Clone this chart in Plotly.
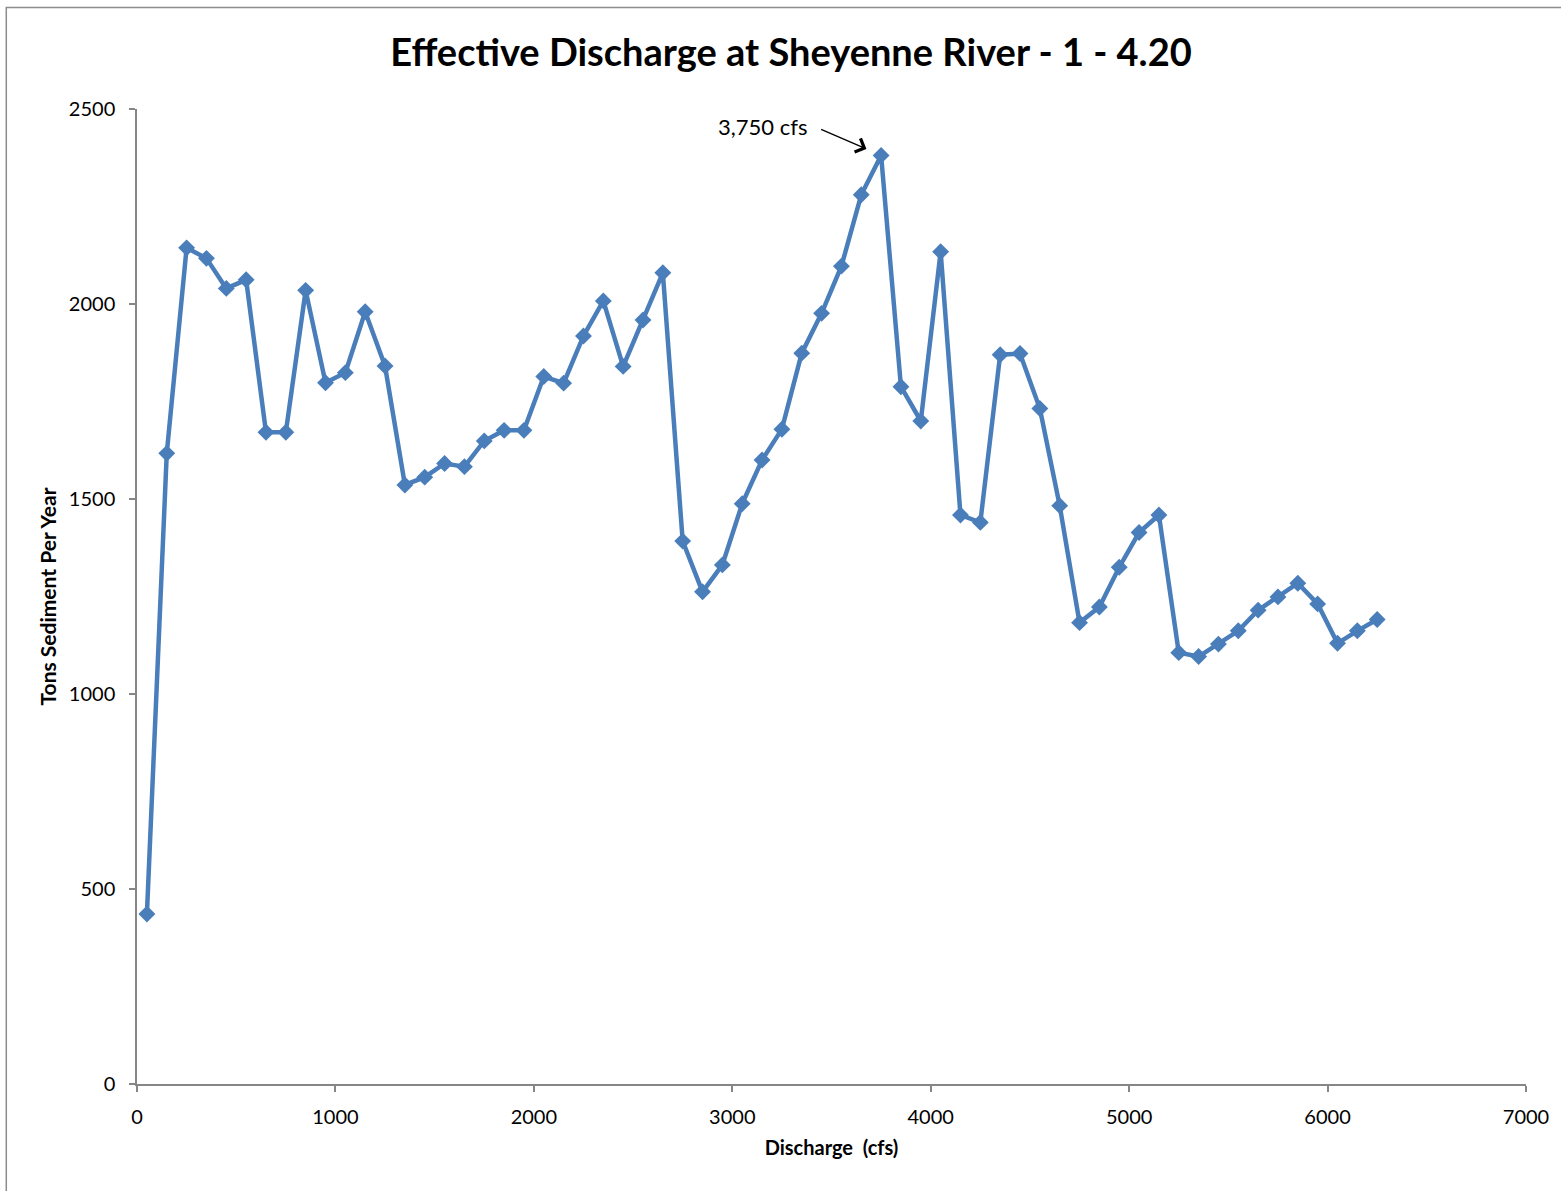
import plotly.graph_objects as go

# Discharge bins (cfs) and annual sediment load per bin
discharge = [
    50, 150, 250, 350, 450, 550, 650, 750, 850, 950,
    1050, 1150, 1250, 1350, 1450, 1550, 1650, 1750, 1850, 1950,
    2050, 2150, 2250, 2350, 2450, 2550, 2650, 2750, 2850, 2950,
    3050, 3150, 3250, 3350, 3450, 3550, 3650, 3750, 3850, 3950,
    4050, 4150, 4250, 4350, 4450, 4550, 4650, 4750, 4850, 4950,
    5050, 5150, 5250, 5350, 5450, 5550, 5650, 5750, 5850, 5950,
    6050, 6150, 6250,
]
tons_per_year = [
    436, 1617, 2144, 2117, 2040, 2062, 1671, 1671, 2035, 1798,
    1824, 1980, 1841, 1536, 1556, 1591, 1583, 1649, 1676, 1676,
    1814, 1797, 1918, 2008, 1840, 1959, 2080, 1392, 1262, 1331,
    1488, 1600, 1679, 1874, 1976, 2097, 2280, 2381, 1788, 1700,
    2134, 1459, 1440, 1870, 1873, 1732, 1483, 1183, 1223, 1325,
    1414, 1459, 1106, 1096, 1128, 1162, 1215, 1249, 1284, 1231,
    1130, 1162, 1191,
]

x_ticks = [0, 1000, 2000, 3000, 4000, 5000, 6000, 7000]
y_ticks = [0, 500, 1000, 1500, 2000, 2500]

title_text = "Effective Discharge at Sheyenne River - 1 - 4.20"
x_title = "Discharge  (cfs)"
y_title = "Tons Sediment Per Year"
peak_discharge = 3750
peak_label = "3,750 cfs"

FONT = "Lato, 'Open Sans', sans-serif"
LINE_BLUE = "#4A7EBB"
AXIS_GRAY = "#868686"

W, H = 1561, 1191
L, R, T, B = 137, 32, 109, 107
PW, PH = W - L - R, H - T - B

fig = go.Figure()
fig.add_trace(go.Scatter(
    x=discharge,
    y=tons_per_year,
    mode="lines+markers",
    line=dict(color=LINE_BLUE, width=4.5),
    marker=dict(symbol="diamond", size=13, color=LINE_BLUE),
    showlegend=False,
    cliponaxis=False,
))

peak_y = tons_per_year[discharge.index(peak_discharge)]

# arrow pointing at the peak bin
fig.add_annotation(
    x=peak_discharge, y=peak_y,
    text=" ",
    showarrow=True,
    arrowhead=4, arrowsize=2.2, arrowwidth=1.3, arrowcolor="black",
    ax=-62, ay=-27,
    standoff=16,
    font=dict(family=FONT, size=2, color="black"),
)
# label for the peak bin
fig.add_annotation(
    x=peak_discharge, y=peak_y,
    text=peak_label,
    showarrow=False,
    xshift=-119, yshift=29,
    font=dict(family=FONT, size=22, color="black"),
)

# outer chart-area frame (only its top and left edges fall inside the page)
fig.add_shape(
    type="rect", xref="paper", yref="paper",
    x0=(6 - L) / PW, x1=(W + 20 - L) / PW,
    y0=(T + PH - (H + 20)) / PH, y1=(T + PH - 7.5) / PH,
    line=dict(color="#8C8C8C", width=1.5),
    fillcolor="rgba(0,0,0,0)",
    layer="below",
)

axis_common = dict(
    showgrid=False, zeroline=False,
    showline=True, linecolor=AXIS_GRAY, linewidth=1.5,
    ticks="outside", ticklen=6, tickwidth=1.5, tickcolor=AXIS_GRAY,
    tickfont=dict(family=FONT, size=20, color="black"),
)

fig.update_layout(
    width=W, height=H,
    margin=dict(l=L, r=R, t=T, b=B),
    paper_bgcolor="white", plot_bgcolor="white",
    title=dict(
        text=title_text,
        x=791 / W, xanchor="center",
        y=1 - 53 / H, yanchor="middle", yref="container",
        font=dict(family=FONT, size=38, color="black", weight="bold"),
    ),
    xaxis=dict(
        range=[0, 7000], tickvals=x_ticks,
        title=dict(text=x_title, standoff=14,
                   font=dict(family=FONT, size=20, color="black", weight="bold")),
        ticklabelstandoff=8,
        **axis_common,
    ),
    yaxis=dict(
        range=[0, 2500], tickvals=y_ticks,
        title=dict(text=y_title, standoff=6,
                   font=dict(family=FONT, size=21, color="black", weight="bold")),
        ticklabelstandoff=10,
        **axis_common,
    ),
)

fig.write_html("out.html")
